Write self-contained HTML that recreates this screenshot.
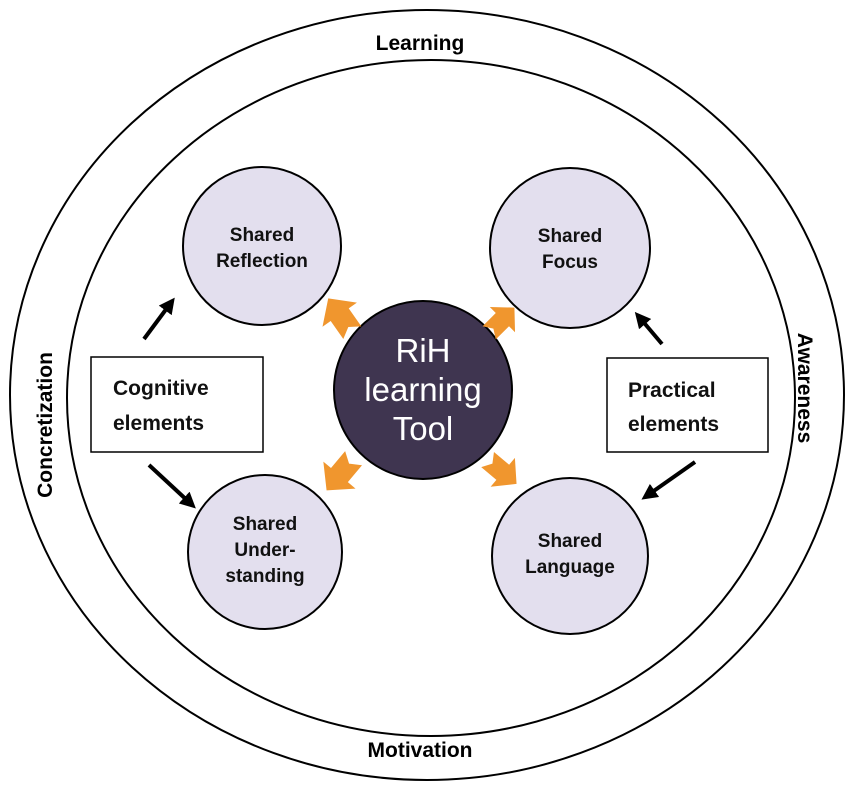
<!DOCTYPE html>
<html><head><meta charset="utf-8"><style>
html,body{margin:0;padding:0;background:#fff;}
svg{display:block;}
text{font-family:"Liberation Sans",sans-serif;}
</style></head><body>
<svg width="851" height="791" viewBox="0 0 851 791" xmlns="http://www.w3.org/2000/svg">
<defs>
<marker id="ah" markerWidth="4" markerHeight="4" refX="2" refY="2" orient="auto" markerUnits="strokeWidth">
<path d="M0,0 L4,2 L0,4 Z" fill="#000"/></marker>
<g id="oa"><path d="M-18,-11 L4,-11 L4,-21 L24,0 L4,21 L4,11 L-18,11 L-11,0 Z" fill="#f0962e"/></g>
</defs>
<ellipse cx="427" cy="395" rx="417" ry="385" fill="none" stroke="#000" stroke-width="2"/>
<ellipse cx="431" cy="398" rx="364" ry="338" fill="none" stroke="#000" stroke-width="2"/>
<text x="420" y="50" font-size="21" font-weight="bold" text-anchor="middle">Learning</text>
<text x="420" y="757" font-size="21" font-weight="bold" text-anchor="middle">Motivation</text>
<text transform="translate(52,425) rotate(-90)" font-size="21" font-weight="bold" text-anchor="middle">Concretization</text>
<text transform="translate(798,388) rotate(90)" font-size="21" font-weight="bold" text-anchor="middle">Awareness</text>
<g fill="#e3dfee" stroke="#000" stroke-width="2">
<circle cx="262" cy="246" r="79"/>
<circle cx="570" cy="248" r="80"/>
<circle cx="265" cy="552" r="77"/>
<circle cx="570" cy="556" r="78"/>
</g>
<circle cx="423" cy="390" r="89" fill="#3f3550" stroke="#000" stroke-width="2"/>
<g font-size="19" font-weight="bold" text-anchor="middle" fill="#111">
<text x="262" y="241">Shared</text><text x="262" y="267">Reflection</text>
<text x="570" y="242">Shared</text><text x="570" y="268">Focus</text>
<text x="265" y="530">Shared</text><text x="265" y="556">Under-</text><text x="265" y="582">standing</text>
<text x="570" y="547">Shared</text><text x="570" y="573">Language</text>
</g>
<g font-size="33" text-anchor="middle" fill="#fff">
<text x="423" y="362">RiH</text><text x="423" y="401">learning</text><text x="423" y="440">Tool</text>
</g>
<rect x="91" y="357" width="172" height="95" fill="#fff" stroke="#000" stroke-width="1.5"/>
<rect x="607" y="358" width="161" height="94" fill="#fff" stroke="#000" stroke-width="1.5"/>
<g font-size="21" font-weight="bold" fill="#111">
<text x="113" y="395">Cognitive</text><text x="113" y="430">elements</text>
<text x="628" y="397">Practical</text><text x="628" y="431">elements</text>
</g>
<g stroke="#000" stroke-width="4" marker-end="url(#ah)">
<line x1="144" y1="339" x2="170" y2="304"/>
<line x1="149" y1="465" x2="190" y2="503"/>
<line x1="662" y1="344" x2="640" y2="318"/>
<line x1="695" y1="462" x2="648" y2="495"/>
</g>
<use href="#oa" transform="translate(342,318) rotate(-125)"/>
<use href="#oa" transform="translate(500,322) rotate(-45) scale(0.85)"/>
<use href="#oa" transform="translate(342,472) rotate(130)"/>
<use href="#oa" transform="translate(500,470) rotate(40) scale(0.9)"/>
</svg>
</body></html>
